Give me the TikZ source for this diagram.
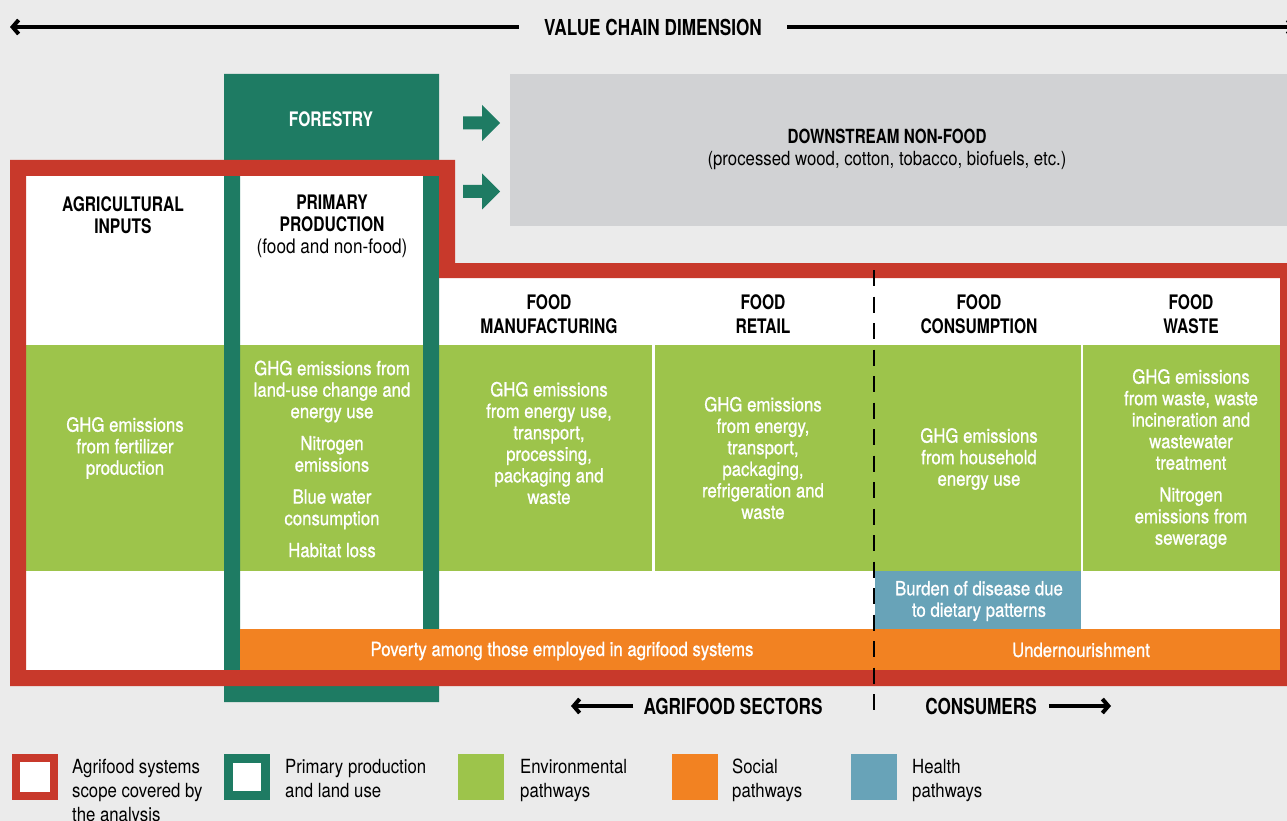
\documentclass[tikz,border=0pt]{standalone}
\usepackage{fontspec}
\setmainfont{TeX Gyre Heros}[FakeStretch=0.86,FakeBold=0.9]
\newfontfamily\headf{TeX Gyre Heros}[FakeStretch=0.78]
\newfontfamily\subf{TeX Gyre Heros}[FakeStretch=0.86]
\usetikzlibrary{arrows.meta}
\definecolor{bgc}{HTML}{EBEBEB}
\definecolor{redc}{HTML}{C8392B}
\definecolor{dgreen}{HTML}{1E7B63}
\definecolor{lgreen}{HTML}{9DC44B}
\definecolor{orng}{HTML}{F28222}
\definecolor{bluec}{HTML}{68A3B8}
\definecolor{grayc}{HTML}{D1D2D4}
\begin{document}
\begin{tikzpicture}[x=1pt,y=-1pt,
  hd/.style={font=\headf\bfseries\fontsize{20}{22}\selectfont, align=center, text=black, inner sep=0pt},
  hdb/.style={font=\headf\bfseries\fontsize{20}{24}\selectfont, align=center, text=black, inner sep=0pt},
  big/.style={font=\headf\bfseries\fontsize{22}{24}\selectfont, text=black, inner sep=0pt},
  wt/.style={font=\fontsize{19.5}{21.5}\selectfont, align=center, text=white, inner sep=0pt},
  lg/.style={font=\subf\fontsize{19.5}{24}\selectfont, align=left, text=black, inner sep=0pt, anchor=north west},
  axis/.style={line width=4pt, -{Straight Barb[length=6pt,width=14pt,line width=4pt]}},
  blockarrow/.style={fill=dgreen},
  divider/.style={line width=2.5pt, dash pattern=on 16pt off 10.5pt}
]
\useasboundingbox (0,0) rectangle (1287,821);
\clip (0,0) rectangle (1287,821);
\fill[bgc] (0,0) rectangle (1287,821);

% title axis
\node[big] (vcd) at (653,27) {VALUE CHAIN DIMENSION};
\coordinate (vleft) at (10,27);
\coordinate (vright) at (1296,27);
\draw[axis] ([xshift=-25pt]vcd.west) -- (vleft);
\draw[axis] ([xshift=25pt]vcd.east) -- (vright);

% downstream non-food
\fill[grayc] (510,74) rectangle (1287,226);
\node[font=\subf\fontsize{19.5}{22}\selectfont, align=center, inner sep=0pt] (ds) at (887,149)
  {{\headf\bfseries DOWNSTREAM NON-FOOD}\\(processed wood, cotton, tobacco, biofuels, etc.)};

% green block arrows
\fill[blockarrow] (463,116.5) -- (482,116.5) -- (482,105) -- (500,123) -- (482,141) -- (482,129.5) -- (463,129.5) -- cycle;
\fill[blockarrow] (463,185) -- (482,185) -- (482,173.5) -- (500,191.5) -- (482,209.5) -- (482,198) -- (463,198) -- cycle;

% white interior of scope
\fill[white] (26,176) -- (439,176) -- (439,278) -- (1280,278) -- (1280,670) -- (26,670) -- cycle;

% environmental band
\fill[lgreen] (26,345) rectangle (1280,571);
\fill[white] (652,345) rectangle (654.5,571);
\fill[white] (1080.5,345) rectangle (1083,571);

% health box
\fill[bluec] (874.5,571) rectangle (1081,629);
\node[wt] (health) at (979,601) {Burden of disease due\\to dietary patterns};

% primary production frame
\fill[dgreen, even odd rule] (224,74) rectangle (439,702) (240,160) rectangle (423,686);
\node[hd, text=white] (forestry) at (331,119) {FORESTRY};

% social band
\fill[orng] (240,629) rectangle (1280,670);
\node[wt] (poverty) at (562,651) {Poverty among those employed in agrifood systems};
\node[wt] (undern) at (1081,650) {Undernourishment};

% red scope frame
\fill[redc, even odd rule]
  (10,160) -- (455,160) -- (455,263) -- (1300,263) -- (1300,686) -- (10,686) -- cycle
  (26,176) -- (439,176) -- (439,278) -- (1280,278) -- (1280,670) -- (26,670) -- cycle;

% headers
\node[hd] (agri) at (123,215.5) {AGRICULTURAL\\INPUTS};
\node[hd] (prim) at (332,226.5) {PRIMARY\\PRODUCTION\\{\subf\mdseries (food and non-food)}};
\node[hdb] (mfg) at (549,314.5) {FOOD\\MANUFACTURING};
\node[hdb] (ret) at (763,314.5) {FOOD\\RETAIL};
\node[hdb] (cons) at (979,314.5) {FOOD\\CONSUMPTION};
\node[hdb] (waste) at (1191,314.5) {FOOD\\WASTE};

% environmental texts
\node[wt] (e1) at (125,448) {GHG emissions\\from fertilizer\\production};
\node[wt] (e2) at (332,459) {GHG emissions from\\land-use change and\\energy use\\[10.5pt]Nitrogen\\emissions\\[10.5pt]Blue water\\consumption\\[10.5pt]Habitat loss};
\node[wt] (e3) at (549,443) {GHG emissions\\from energy use,\\transport,\\processing,\\packaging and\\waste};
\node[wt] (e4) at (763,458) {GHG emissions\\from energy,\\transport,\\packaging,\\refrigeration and\\waste};
\node[wt] (e5) at (979,459) {GHG emissions\\from household\\energy use};
\node[wt] (e6) at (1191,459) {GHG emissions\\from waste, waste\\incineration and\\wastewater\\treatment\\[10.5pt]Nitrogen\\emissions from\\sewerage};

% dashed divider
\coordinate (dtop) at (874,270);
\coordinate (dbot) at (874,715);
\draw[divider] (dtop) -- (dbot);

% bottom axis labels
\node[big] (sect) at (733,706) {AGRIFOOD SECTORS};
\node[big] (consu) at (981,706) {CONSUMERS};
\coordinate (sl) at (571,706);
\coordinate (cr) at (1111,706);
\draw[axis] ([xshift=-10pt]sect.west) -- (sl);
\draw[axis] ([xshift=12pt]consu.east) -- (cr);

% legend
\fill[redc] (12,754) rectangle (58,800);
\fill[white] (20,762) rectangle (50,792);
\node[lg] (l1) at (72,759) {Agrifood systems\\scope covered by\\the analysis};
\fill[dgreen] (224,754) rectangle (270,800);
\fill[white] (233,763) rectangle (261,791);
\node[lg] (l2) at (285,759) {Primary production\\and land use};
\fill[lgreen] (458,754) rectangle (504,800);
\node[lg] (l3) at (520,759) {Environmental\\pathways};
\fill[orng] (672,754) rectangle (718,800);
\node[lg] (l4) at (732,759) {Social\\pathways};
\fill[bluec] (851,754) rectangle (897,800);
\node[lg] (l5) at (912,759) {Health\\pathways};
\end{tikzpicture}
\end{document}
